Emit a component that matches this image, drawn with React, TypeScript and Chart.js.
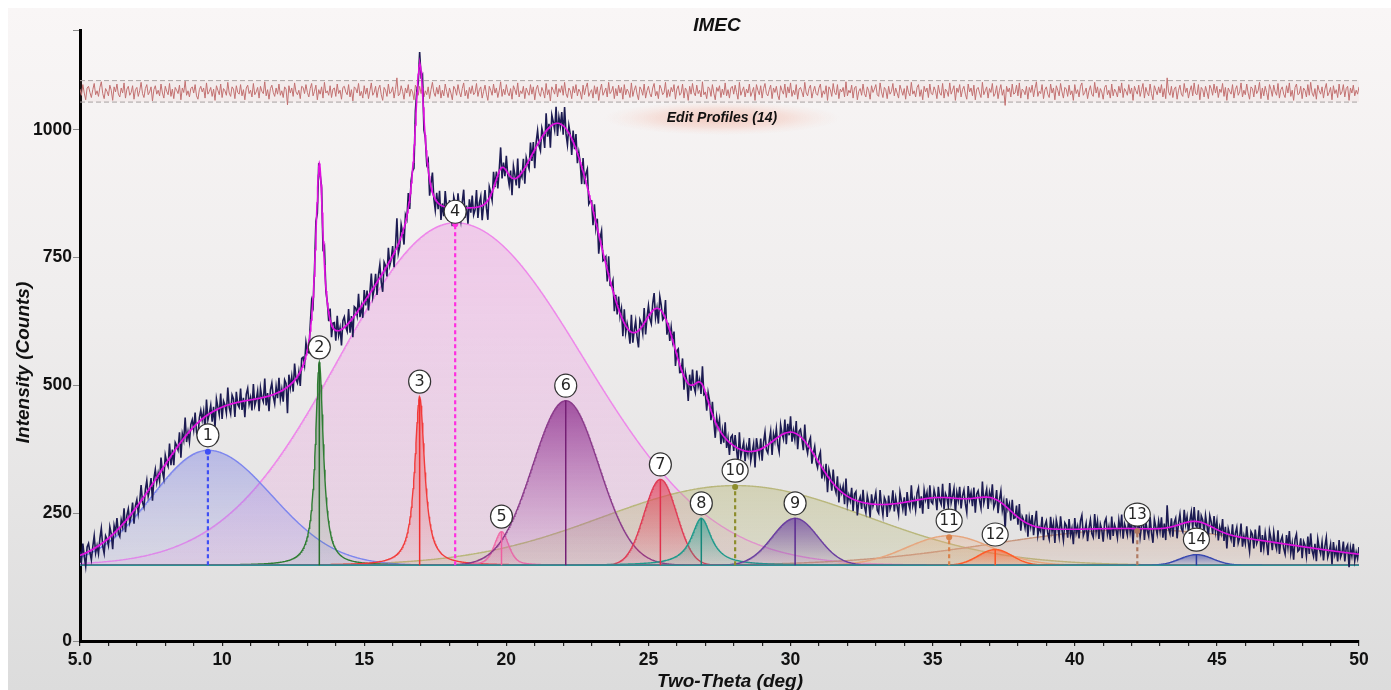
import React, { useEffect, useRef } from 'react';
import { Chart, registerables } from 'chart.js';

Chart.register(...registerables);

// ---------- axes ----------
const xRange = [5, 50];
const yRange = [0, 1195];
const xLabelEvery = 5;
const xTickStep = 1;
const yTickValues = [0, 250, 500, 750, 1000];

// ---------- fitted background level ----------
const baselineLevel = 148;

// ---------- fitted profiles ----------
const peakNames = ['1', '2', '3', '4', '5', '6', '7', '8', '9', '10', '11', '12', '13', '14'];
const peakCenters = [9.5, 13.42, 16.95, 18.2, 19.83, 22.09, 25.42, 26.86, 30.16, 28.05, 35.58, 37.2, 42.2, 44.28];
const peakHeights = [225, 397, 330, 670, 66, 322, 168, 92, 92, 156, 58, 31, 70, 21];
const peakFwhmLeft = [4.6, 0.34, 0.42, 9.6, 0.6, 2.74, 1.34, 0.85, 1.89, 11, 3.5, 1.4, 12, 1.35];
const peakFwhmRight = [5.3, 0.34, 0.42, 10.6, 0.6, 2.74, 1.34, 0.85, 1.89, 11, 3.5, 1.4, 12, 1.35];
const peakLorentzFraction = [0, 1, 1, 0, 0.5, 0, 0, 1, 0, 0, 0, 0, 0, 0];
const peakDashedMarker = [true, false, false, true, false, false, false, false, false, true, true, false, true, false];

// ---------- observed scan: weighted residuals (tenths of sigma), every 0.05 deg from 5.0 ----------
const scanStart = 5.0;
const scanStep = 0.05;
const scanResiduals = [
  4, -7, 12, -3, -15, 6, 9, -2, -11, 3, 14, -6, 1, -9, 7, 17, -4, -13, 5, 0,
  -8, 11, 2, -16, 8, -1, 13, -5, -10, 6, -3, 15, -12, 4, 9, -7, -2, 10, -14, 3,
  7, -9, 1, 16, -4, -11, 5, 12, -6, -1, 8, -17, 3, 10, -5, 2, -8, 13, -3, -12,
  9, 0, -6, 14, -9, 4, -13, 7, 2, -4, 11, -15, 6, -2, 18, -7, 1, -10, 5, 8,
  -3, 12, -8, -14, 3, 9, -1, 6, -12, 15, -5, 0, 7, -9, 4, -16, 10, 2, -6, 13,
  -11, 5, 1, -7, 16, -3, -9, 8, 4, -13, 10, -2, -5, 12, -8, 3, -15, 6, 11, -4,
  2, -10, 14, -6, -1, 7, -12, 9, 0, -4, 17, -8, 3, -14, 5, 11, -2, -9, 6, -5,
  13, -7, 1, -11, 8, 4, -24, 10, -3, 6, -9, 15, -1, -6, 2, -13, 9, 7, -4, 12,
  -2, -10, 5, 14, -8, 0, 11, -15, 3, -5, 8, -12, 16, -3, 1, -7, 10, -11, 4, 6,
  -9, 13, -4, 2, -14, 7, 9, -1, -6, 12, -10, 3, -17, 8, 5, -3, 14, -8, 0, -12,
  10, -5, 6, -13, 1, 15, -7, -2, 9, -11, 4, 11, -6, -16, 7, 2, -9, 13, -4, -1,
  8, -12, 3, 24, -8, -5, 10, 0, -14, 6, -3, 12, -9, 4, -1, -15, 11, 5, -7, 9,
  -4, 14, -10, 1, -6, 8, -13, 3, 16, -2, -9, 7, -5, 11, -12, 2, -8, 13, 0, -11,
  6, -3, -15, 9, 4, -7, 12, -1, -10, 5, 15, -8, 2, -13, 7, -4, 10, -6, -2, 14,
  -9, 3, 8, -12, 0, 11, -5, -16, 9, 2, -7, 13, -3, 6, -11, 1, 17, -9, 4, -6,
  12, -2, -8, 5, -14, 10, 3, -6, 15, -10, 1, -4, 9, -13, 6, -1, -7, 12, -5, 8,
  -15, 4, 11, -3, -9, 7, 0, -12, 14, -6, 3, -17, 8, 2, -5, 13, -10, 5, -2, 10,
  -7, 16, -4, -11, 6, 1, -13, 9, -3, 12, -8, 4, -1, -14, 11, -6, 7, 15, -9, -2,
  3, -12, 10, -5, 8, -16, 2, 13, -7, -1, 6, -10, 16, -4, 0, 9, -13, 5, -8, 11,
  -3, 7, -14, 12, -6, 4, -1, -11, 15, -9, 2, 10, -5, -15, 8, 3, -7, 13, -12, 1,
  9, -4, -10, 6, 14, -8, 0, -13, 11, 5, -6, -2, 16, -11, 3, -9, 7, -1, 12, -14,
  4, 10, -7, -3, 13, -12, 6, 1, -16, 9, -5, 14, -2, -8, 11, -4, 2, -10, 17, -6,
  -1, -13, 8, 5, -9, 12, -3, -15, 7, 0, 10, -11, 4, -6, 15, -8, 3, -12, 6, 9,
  -5, 11, -2, -14, 16, -7, 1, 8, -10, 4, -3, 13, -9, -1, 7, -16, 12, 2, -6, 10,
  -12, 5, 14, -4, -8, 3, 11, -13, 6, -2, 9, -7, -15, 10, 1, -5, 13, -11, 8, -3,
  15, -9, 2, -6, 12, -14, 4, 7, -1, -10, 16, -3, -8, 5, 11, -12, 0, 9, -4, -7,
  6, 13, -11, 1, -5, 10, -16, 8, 3, -9, 14, -2, -6, 12, -13, 4, -1, 7, -10, 17,
  -8, 2, -3, 11, -12, 6, 9, -15, 0, 5, -7, 13, -4, -10, 8, 1, -14, 10, -2, 4,
  12, -6, -9, 15, -1, -11, 7, 3, -13, 9, -5, 0, 14, -8, 6, -3, -12, 11, 2, -7,
  5, -14, 10, -2, -8, 16, -5, 1, -10, 7, 12, -9, 3, -15, 9, -1, 6, -11, 13, -4,
  -6, 8, 1, -13, 11, -3, -7, 14, -12, 4, 0, -9, 15, -5, 2, 10, -16, 6, -2, 12,
  -10, 3, 9, -5, -14, 13, -1, 6, -8, 11, -15, 4, 7, -3, -11, 16, -6, 1, 8, -12,
  5, -2, 14, -9, -4, 10, -13, 2, 12, -7, 3, -25, 9, -1, 6, -10, 13, -5, -3, 11,
  -8, 15, -12, 4, 1, -6, 9, -14, 7, -2, 11, -10, 5, 17, -9, 0, -4, 12, -13, 3,
  8, -5, -11, 13, -3, 6, -15, 10, 2, -8, 14, -1, -12, 7, 4, -9, 11, -6, 1, -16,
  12, -4, 3, -10, 9, 15, -7, -2, 6, -13, 1, 10, -5, -9, 16, -3, 8, -11, 5, -1,
  -14, 7, 11, -6, 2, -12, 13, -8, 4, -1, -10, 9, -3, 15, -11, 5, 0, -7, 12, -4,
  6, -16, 9, 1, -5, 11, -9, 3, 14, -12, 7, -2, -8, 13, -4, -15, 10, 2, -6, 8,
  -3, 12, -10, 5, -13, 24, -1, -7, 9, -11, 4, 8, -14, 2, 11, -5, -9, 14, -2, 6,
  -12, 1, 10, -8, 15, -4, -6, 12, -15, 7, 3, -10, 9, -1, -13, 11, 5, -7, 13, -3,
  9, -11, 4, -2, 14, -9, 7, -16, 6, 0, -5, 12, -12, 3, 10, -7, -1, 15, -10, 2,
  -6, 13, -3, -14, 8, 5, -10, 11, -4, 1, 16, -13, 6, -8, 9, -2, -15, 12, 4, -9,
  11, -1, -7, 14, -12, 3, 8, -5, -11, 10, -3, 15, -9, 2, -16, 7, 13, -6, -4, 9,
  -13, 6, 2, -10, 12, -7, 16, -3, -9, 5, -14, 11, 1, -5, 8, -12, 4, 14, -8, -2,
  7, -15, 10, -4, 3, -11, 13, -6, -1, 12, -10, 5, 9, -16, 6, -3, 11, -8, 2, -5,
  8,
];

// residual strip at the top of the plot
const residualOffset = 1075;
const residualBand = [1054, 1096];

// ---------- styles ----------
const peakLineColors = ['#7d86ee', '#2e7d32', '#f23b3b', '#ee86ea', '#f06ba8', '#8a3a8a', '#e03c56', '#1f9a8c', '#6b3fa0', '#b9b77c', '#e6a67e', '#ff5a28', '#c7977f', '#3848b0'];
const peakMarkerColors = ['#3f4ff5', '#2a6e2d', '#f03030', '#ff2fe0', '#ef5f9f', '#741f74', '#e0304c', '#16877a', '#5a2a90', '#8d8d2c', '#d9824a', '#ff5020', '#b07a62', '#2a3aa0'];
const peakFillTop = [
  'rgba(118,122,226,0.42)', 'rgba(46,125,50,0.45)', 'rgba(240,58,58,0.50)', 'rgba(236,150,225,0.42)',
  'rgba(240,107,168,0.50)', 'rgba(140,45,140,0.78)', 'rgba(226,61,85,0.70)', 'rgba(31,154,140,0.60)',
  'rgba(107,63,160,0.72)', 'rgba(184,184,118,0.42)', 'rgba(232,168,124,0.35)', 'rgba(255,90,40,0.55)',
  'rgba(200,149,124,0.32)', 'rgba(56,72,176,0.62)',
];
const peakFillBottom = [
  'rgba(150,150,232,0.14)', 'rgba(46,125,50,0.05)', 'rgba(240,58,58,0.05)', 'rgba(236,170,225,0.25)',
  'rgba(240,107,168,0.08)', 'rgba(175,95,175,0.08)', 'rgba(226,61,85,0.08)', 'rgba(31,154,140,0.08)',
  'rgba(107,63,160,0.08)', 'rgba(184,184,118,0.20)', 'rgba(232,168,124,0.10)', 'rgba(255,90,40,0.10)',
  'rgba(200,149,124,0.14)', 'rgba(56,72,176,0.10)',
];
// drawing order, topmost first
const peakStackTopFirst = [13, 11, 8, 7, 6, 5, 4, 2, 1, 10, 0, 12, 9, 3];

const FONT = "'Liberation Sans', Arial, sans-serif";

function profileValue(i: number, x: number): number {
  const d = x - peakCenters[i];
  const w = d < 0 ? peakFwhmLeft[i] : peakFwhmRight[i];
  const u = (2 * d / w) ** 2;
  const eta = peakLorentzFraction[i];
  return peakHeights[i] * ((1 - eta) * Math.exp(-Math.LN2 * u) + eta / (1 + u));
}

function fitValue(x: number): number {
  let s = baselineLevel;
  for (let i = 0; i < peakCenters.length; i++) s += profileValue(i, x);
  return s;
}

const decorPlugin = {
  id: 'decor',
  beforeDatasetsDraw(chart: any) {
    const { ctx } = chart;
    // soft glow behind "Edit Profiles"
    const cx = 714, cy = 110, rx = 118, ry = 17;
    ctx.save();
    ctx.translate(cx, cy);
    ctx.scale(1, ry / rx);
    const g = ctx.createRadialGradient(0, 0, 0, 0, 0, rx);
    g.addColorStop(0, 'rgba(240,165,145,0.55)');
    g.addColorStop(0.55, 'rgba(244,185,168,0.35)');
    g.addColorStop(1, 'rgba(250,215,205,0)');
    ctx.fillStyle = g;
    ctx.beginPath();
    ctx.arc(0, 0, rx, 0, Math.PI * 2);
    ctx.fill();
    ctx.restore();
  },
  afterDatasetsDraw(chart: any) {
    const { ctx, scales } = chart;
    const xs = scales.x, ys = scales.y;
    const base = ys.getPixelForValue(baselineLevel);
    ctx.save();
    for (let i = 0; i < peakCenters.length; i++) {
      const px = xs.getPixelForValue(peakCenters[i]);
      const top = ys.getPixelForValue(baselineLevel + peakHeights[i]);
      ctx.strokeStyle = peakMarkerColors[i];
      if (peakDashedMarker[i]) {
        ctx.lineWidth = 2.2;
        ctx.setLineDash([4, 3]);
      } else {
        ctx.lineWidth = 1.5;
        ctx.setLineDash([]);
      }
      ctx.beginPath();
      ctx.moveTo(px, base);
      ctx.lineTo(px, top);
      ctx.stroke();
      ctx.setLineDash([]);
      if (peakDashedMarker[i]) {
        ctx.fillStyle = peakMarkerColors[i];
        ctx.beginPath();
        ctx.arc(px, top + 1.5, 3, 0, Math.PI * 2);
        ctx.fill();
      }
    }
    // numbered bubbles
    ctx.textAlign = 'center';
    ctx.textBaseline = 'middle';
    for (let i = 0; i < peakCenters.length; i++) {
      const px = xs.getPixelForValue(peakCenters[i]);
      const top = ys.getPixelForValue(baselineLevel + peakHeights[i]);
      const cy = top - (i === 3 ? 11 : 15);
      const rx = peakNames[i].length > 1 ? 13 : 11;
      const ry = 11.5;
      ctx.beginPath();
      ctx.ellipse(px, cy, rx, ry, 0, 0, Math.PI * 2);
      ctx.fillStyle = '#ffffff';
      ctx.fill();
      ctx.lineWidth = 1.2;
      ctx.strokeStyle = '#333333';
      ctx.stroke();
      ctx.fillStyle = '#262626';
      ctx.font = peakNames[i].length > 1 ? "15px 'DejaVu Sans', sans-serif" : "16px 'DejaVu Sans', sans-serif";
      ctx.fillText(peakNames[i], px, cy + 0.5);
    }
    ctx.restore();
  },
  afterDraw(chart: any) {
    const { ctx, chartArea } = chart;
    ctx.save();
    ctx.fillStyle = '#111';
    ctx.textAlign = 'center';
    ctx.textBaseline = 'middle';
    ctx.font = `italic bold 19px ${FONT}`;
    ctx.fillText('IMEC', 709, 18);
    ctx.fillText('Two-Theta (deg)', 722, 674);
    ctx.save();
    ctx.translate(16, (chartArea.top + chartArea.bottom) / 2 + 27);
    ctx.rotate(-Math.PI / 2);
    ctx.fillText('Intensity (Counts)', 0, 0);
    ctx.restore();
    ctx.font = `italic bold 14px ${FONT}`;
    ctx.fillText('Edit Profiles (14)', 714, 110);
    ctx.restore();
  },
};

export default function App() {
  const canvasRef = useRef<HTMLCanvasElement | null>(null);

  useEffect(() => {
    const canvas = canvasRef.current;
    if (!canvas) return;

    const fineX: number[] = [];
    const nFine = Math.round((xRange[1] - xRange[0]) / 0.02);
    for (let k = 0; k <= nFine; k++) fineX.push(xRange[0] + k * 0.02);

    const fitData = fineX.map((x) => ({ x, y: fitValue(x) }));
    const observed = scanResiduals.map((r, k) => {
      const x = scanStart + k * scanStep;
      const c = fitValue(x);
      return { x, y: c + (r / 10) * 6.2 * Math.pow(c, 0.2) };
    });
    const residualTrace = scanResiduals.map((r, k) => ({
      x: scanStart + k * scanStep,
      y: residualOffset + (r / 10) * 11,
    }));

    const common = { pointRadius: 0, pointHoverRadius: 0, tension: 0 };

    const components = peakStackTopFirst.map((i) => ({
      ...common,
      data: fineX.map((x) => ({ x, y: baselineLevel + profileValue(i, x) })),
      borderColor: peakLineColors[i],
      borderWidth: 1.4,
      fill: { value: baselineLevel },
      backgroundColor: (c: any) => {
        const ch = c.chart;
        const area = ch.chartArea;
        if (!area) return peakFillTop[i];
        const yTop = ch.scales.y.getPixelForValue(baselineLevel + peakHeights[i]);
        const yBot = ch.scales.y.getPixelForValue(baselineLevel);
        const g = ch.ctx.createLinearGradient(0, yTop, 0, yBot);
        g.addColorStop(0, peakFillTop[i]);
        g.addColorStop(1, peakFillBottom[i]);
        return g;
      },
    }));

    const chart = new Chart(canvas, {
      type: 'line',
      data: {
        datasets: [
          { ...common, data: fitData, borderColor: '#e010e0', borderWidth: 1.6, fill: false },
          { ...common, data: observed, borderColor: '#1c1b52', borderWidth: 1.6, fill: false },
          { ...common, data: residualTrace, borderColor: '#c27070', borderWidth: 1, fill: false },
          {
            ...common,
            data: [{ x: xRange[0], y: residualBand[1] }, { x: xRange[1], y: residualBand[1] }],
            borderColor: '#a9a3a3', borderWidth: 1, borderDash: [5, 3], fill: false,
          },
          {
            ...common,
            data: [{ x: xRange[0], y: residualBand[0] }, { x: xRange[1], y: residualBand[0] }],
            borderColor: '#a9a3a3', borderWidth: 1, borderDash: [5, 3],
            fill: '-1', backgroundColor: 'rgba(215,170,170,0.10)',
          },
          {
            ...common,
            data: [{ x: xRange[0], y: baselineLevel }, { x: xRange[1], y: baselineLevel }],
            borderColor: '#2e8f93', borderWidth: 1.5, fill: false,
          },
          ...components,
        ] as any,
      },
      options: {
        animation: false,
        responsive: false,
        devicePixelRatio: 1,
        parsing: false,
        normalized: true,
        events: [],
        layout: { padding: { top: 22, right: 32, left: 0, bottom: 0 } },
        plugins: {
          legend: { display: false },
          tooltip: { enabled: false },
          title: { display: false },
        },
        scales: {
          x: {
            type: 'linear',
            min: xRange[0],
            max: xRange[1],
            afterFit: (s: any) => { s.height = 49; },
            ticks: {
              stepSize: xTickStep,
              autoSkip: false,
              maxRotation: 0,
              minRotation: 0,
              padding: 4,
              color: '#111',
              font: { family: FONT, size: 17.5, weight: 'bold' },
              callback: (v: any) => {
                const n = Number(v);
                if (Math.abs(n / xLabelEvery - Math.round(n / xLabelEvery)) > 1e-6) return '';
                return n === xRange[0] ? n.toFixed(1) : String(n);
              },
            },
            grid: { display: true, drawOnChartArea: false, drawTicks: true, tickLength: 5, color: '#222', lineWidth: 1.2 },
            border: { display: true, color: '#000', width: 3 },
          },
          y: {
            type: 'linear',
            min: yRange[0],
            max: yRange[1],
            afterFit: (s: any) => { s.width = 72; },
            afterBuildTicks: (s: any) => {
              s.ticks = [...yTickValues, yRange[1]].map((value) => ({ value }));
            },
            ticks: {
              padding: 1,
              color: '#111',
              font: { family: FONT, size: 17.5, weight: 'bold' },
              callback: (v: any) => (yTickValues.includes(Number(v)) ? String(v) : ''),
            },
            grid: { display: true, drawOnChartArea: false, drawTicks: true, tickLength: 7, color: '#8a8a8a', lineWidth: 1 },
            border: { display: true, color: '#000', width: 3 },
          },
        },
      } as any,
      plugins: [decorPlugin],
    });

    return () => chart.destroy();
  }, []);

  return (
    <div
      style={{
        position: 'fixed',
        left: 8,
        top: 8,
        width: 1383,
        height: 682,
        background: 'linear-gradient(to bottom, #f9f6f6 0%, #efeded 45%, #dcdcdc 100%)',
        overflow: 'hidden',
      }}
    >
      <canvas ref={canvasRef} width={1383} height={682} style={{ display: 'block' }} />
    </div>
  );
}
